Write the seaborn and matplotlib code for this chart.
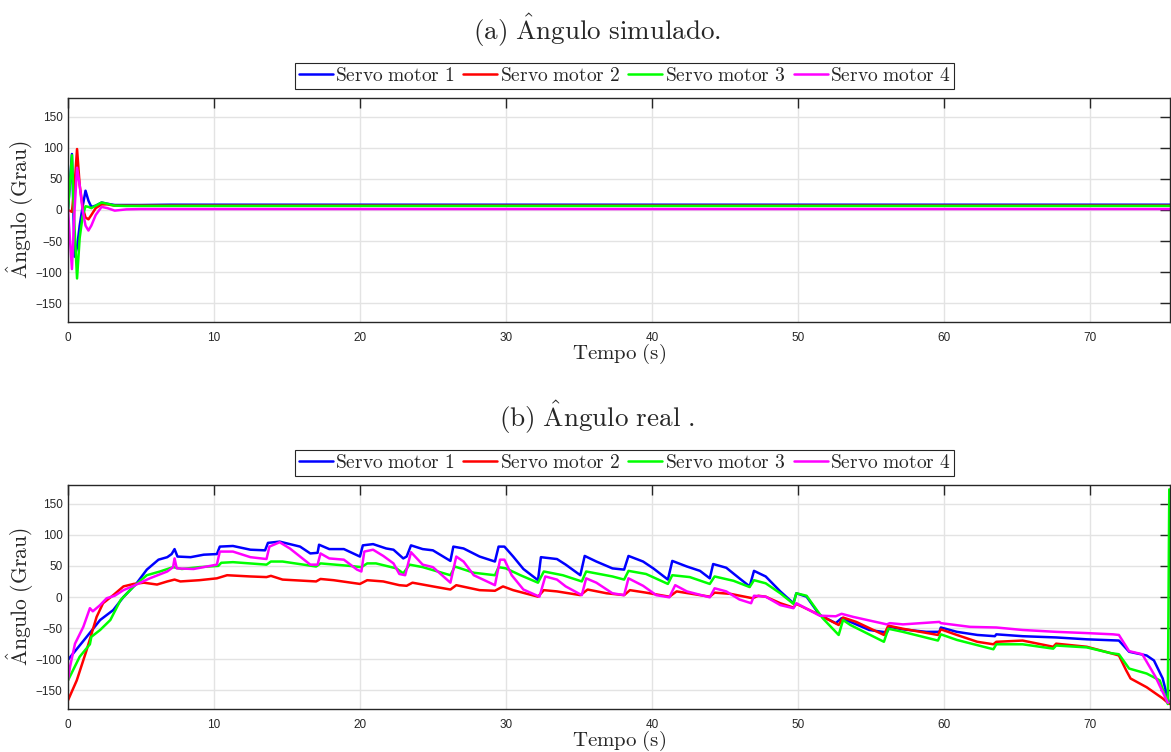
import numpy as np
import pandas as pd
import matplotlib
matplotlib.use("Agg")
import matplotlib.pyplot as plt
import seaborn as sns

# ---------------- data ----------------
series_names = ["Servo motor 1", "Servo motor 2", "Servo motor 3", "Servo motor 4"]
series_colors = ["#0000ff", "#ff0000", "#00ff00", "#ff00ff"]

# (a) simulated angle
t_sim = [0.0, 0.27, 0.45, 0.62, 0.8, 1.0, 1.2, 1.4, 1.6, 1.9, 2.3, 2.7, 3.2, 4.0, 5.0, 7.0, 10.0, 30.0, 50.0, 75.5]
sim_m1 = [0, 90, -75, -60, -25, 5, 31, 15, 5, 7, 12, 10, 8, 8, 8, 8.5, 8.5, 8.5, 8.5, 8.5]
sim_m2 = [0, -3, 40, 98, 40, 5, -12, -15, -8, 3, 9, 9, 7, 7, 7, 7, 7, 7, 7, 7]
sim_m3 = [0, 88, -30, -110, -45, -10, 6, 5, 3, 7, 12, 10, 7, 6.5, 6.5, 6.5, 6.5, 6.5, 6.5, 6.5]
sim_m4 = [0, -95, 0, 68, 40, 0, -25, -33, -25, -8, 5, 3, -1, 1, 1.5, 1.5, 1.5, 1.5, 1.5, 1.5]

# (b) real angle
t_r1 = [0.0, 1.28, 2.2, 3.1, 3.8, 4.7, 5.4, 6.2, 6.8, 7.1, 7.3, 7.5, 8.4, 9.3, 10.2, 10.4, 11.3, 12.5, 13.5, 13.7,
        14.5, 15.9, 16.6, 17.1, 17.2, 17.9, 18.9, 20.0, 20.2, 20.9, 21.8, 22.3, 22.97, 23.2, 23.5, 24.3, 25.0, 26.2,
        26.4, 27.1, 28.2, 29.25, 29.5, 29.9, 30.5, 31.2, 32.2, 32.4, 33.5, 34.1, 35.1, 35.4, 36.2, 37.3, 38.1, 38.4,
        39.4, 40.1, 41.1, 41.4, 42.4, 43.3, 43.97, 44.2, 45.1, 46.0, 46.7, 47.0, 47.8, 48.8, 49.7, 49.9, 50.6, 51.5,
        52.6, 53.0, 53.8, 54.9, 56.1, 56.3, 57.2, 58.8, 59.7, 59.8, 60.9, 62.3, 63.5, 63.6, 65.4, 67.7, 69.8, 72.0,
        72.7, 73.9, 74.4, 75.0, 75.4]
real_m1 = [-101, -64, -37, -21, 0, 22, 44, 60, 64, 69, 77, 65, 64, 68, 69, 81, 82, 76, 75, 87,
           89, 81, 70, 71, 84, 77, 77, 65, 83, 85, 78, 76, 62, 65, 83, 77, 75, 58,
           81, 78, 65, 57, 81, 81, 65, 45, 27, 64, 61, 52, 35, 66, 57, 46, 44, 66,
           57, 46, 28, 58, 49, 42, 30, 53, 47, 30, 17, 42, 33, 9, -10, 6, 0.5, -29,
           -42, -34, -42, -53, -57, -48, -52, -56, -56, -49, -56, -61, -63, -60, -63, -65, -68, -70,
           -88, -94, -102, -131, -168]

t_r2 = [0.0, 0.6, 1.28, 1.96, 2.4, 3.1, 3.8, 4.5, 5.2, 6.1, 6.8, 7.3, 7.7, 9.0, 10.2, 10.9, 12.5, 13.6, 13.9,
        14.7, 17.0, 17.3, 18.2, 20.0, 20.5, 21.6, 22.7, 23.2, 23.6, 25.0, 26.2, 26.6, 28.2, 29.25, 29.8, 30.5,
        32.2, 32.6, 33.5, 35.1, 35.6, 36.9, 38.1, 38.5, 39.6, 41.2, 41.7, 43.97, 44.3, 45.4, 46.9, 47.3, 47.8,
        48.8, 49.7, 49.9, 51.5, 52.8, 53.1, 54.0, 55.9, 56.2, 57.2, 59.6, 59.8, 60.9, 62.3, 63.4, 63.6, 65.4,
        67.5, 67.7, 69.8, 71.4, 72.0, 72.5, 72.8, 73.9, 75.0, 75.45]
real_m2 = [-166, -134, -85, -32, -10, 3, 17, 21, 23, 20, 25, 28, 25, 27, 30, 35, 33, 32, 34,
           28, 25, 29, 27, 21, 27, 25, 19, 18, 23, 17, 12, 19, 11, 10, 17, 11,
           0.5, 11, 9, 3, 12, 6, 3, 11, 7, 0.5, 9, 0.5, 7, 5, -2, 2, 0.5,
           -10, -17, -11, -29, -45, -33, -40, -61, -46, -51, -61, -52, -61, -72, -76, -72, -70,
           -80, -75, -80, -90, -94, -118, -131, -145, -163, -172]

t_r3 = [0.0, 0.8, 1.5, 1.6, 2.2, 2.9, 3.6, 4.5, 5.4, 6.3, 7.2, 7.8, 9.0, 10.3, 10.5, 11.3, 13.6, 13.9, 14.7,
        17.0, 17.3, 19.3, 20.1, 20.5, 21.1, 22.5, 22.97, 23.4, 24.3, 26.2, 26.5, 27.8, 29.25, 29.5, 30.0, 31.0,
        32.2, 32.6, 33.9, 35.2, 35.5, 37.3, 38.1, 38.4, 39.6, 41.1, 41.4, 42.6, 43.97, 44.3, 45.6, 46.7, 47.0,
        47.8, 48.8, 49.7, 49.9, 50.6, 51.7, 52.8, 53.1, 53.6, 55.9, 56.2, 57.2, 59.6, 59.8, 60.9, 63.4, 63.6,
        65.4, 67.5, 67.7, 69.8, 71.4, 72.0, 72.7, 73.9, 74.8, 75.35, 75.45]
real_m3 = [-134, -96, -76, -64, -53, -37, -5, 17, 35, 41, 48, 45, 48, 50, 55, 56, 52, 57, 57,
           49, 54, 50, 48, 54, 54, 46, 38, 52, 48, 35, 49, 39, 35, 48, 46, 35,
           23, 41, 35, 25, 41, 33, 28, 42, 37, 21, 35, 32, 21, 33, 26, 16, 27,
           22, 6, -11, 6, 2, -34, -61, -37, -45, -72, -51, -56, -70, -60, -69, -84, -76,
           -76, -83, -78, -81, -90, -92, -115, -123, -134, -172, 173]

t_r4 = [0.0, 0.14, 0.48, 1.05, 1.5, 1.7, 2.2, 2.65, 3.2, 3.8, 4.5, 5.6, 6.8, 7.2, 7.3, 7.45, 8.6, 10.2, 10.4,
        11.3, 12.5, 13.6, 13.8, 14.5, 15.2, 15.9, 16.6, 17.1, 17.3, 17.9, 18.9, 19.8, 20.1, 20.3, 20.9, 21.6,
        22.3, 22.7, 23.1, 23.5, 24.3, 25.0, 26.2, 26.6, 27.1, 27.8, 29.25, 29.6, 29.9, 30.4, 31.2, 32.3, 32.7,
        33.5, 34.1, 35.2, 35.5, 36.2, 37.3, 38.1, 38.4, 39.4, 40.3, 41.2, 41.6, 42.4, 43.97, 44.3, 45.1, 46.0,
        46.8, 47.0, 47.8, 48.8, 49.7, 49.9, 51.5, 52.6, 53.0, 53.8, 56.1, 56.3, 57.2, 59.7, 59.8, 61.8, 63.6,
        65.4, 67.7, 69.8, 71.6, 72.0, 72.7, 73.6, 74.5, 75.35]
real_m4 = [-134, -112, -75, -48, -18, -23, -13, -2, 2, 11, 18, 30, 41, 48, 62, 46, 45, 52, 73,
           73, 64, 61, 81, 88, 78, 65, 52, 52, 70, 62, 60, 44, 41, 73, 76, 66,
           54, 37, 35, 72, 52, 48, 23, 65, 57, 35, 19, 60, 60, 35, 12, 0.5, 33,
           28, 17, 3, 30, 23, 6, 3, 30, 18, 3, -0.5, 19, 9, -0.5, 14, 9, -4,
           -10, 2, 0.5, -13, -18, -10, -30, -31, -27, -32, -44, -42, -44, -40, -42, -48, -49,
           -53, -56, -58, -60, -61, -87, -92, -128, -170]

x_ticks = [0, 10, 20, 30, 40, 50, 60, 70]
y_ticks = [-150, -100, -50, 0, 50, 100, 150]

# ---------------- style ----------------
sns.set_style("whitegrid")
plt.rcParams.update({
    "mathtext.fontset": "cm",
    "axes.edgecolor": "#262626",
    "axes.linewidth": 1.0,
    "grid.color": "#e3e3e3",
    "grid.linewidth": 1.0,
    "xtick.color": "#262626",
    "ytick.color": "#262626",
    "xtick.direction": "in",
    "ytick.direction": "in",
})
plt.rcParams["font.family"] = ["Liberation Sans", "DejaVu Sans"]


def long_df(t_list, v_list):
    frames = []
    for name, t, v in zip(series_names, t_list, v_list):
        frames.append(pd.DataFrame({"t": t, "v": v, "serie": name}))
    return pd.concat(frames, ignore_index=True)


df_sim = long_df([t_sim] * 4, [sim_m1, sim_m2, sim_m3, sim_m4])
df_real = long_df([t_r1, t_r2, t_r3, t_r4], [real_m1, real_m2, real_m3, real_m4])

fig = plt.figure(figsize=(11.71, 7.52), dpi=100)
ax1 = fig.add_axes([68 / 1171, 1 - 322 / 752, 1102 / 1171, 224 / 752])
ax2 = fig.add_axes([68 / 1171, 1 - 709 / 752, 1102 / 1171, 224 / 752])

legend_labels = [r"$\mathrm{Servo\ motor\ %d}$" % (i + 1) for i in range(4)]

for ax, df in ((ax1, df_sim), (ax2, df_real)):
    sns.lineplot(data=df, x="t", y="v", hue="serie", hue_order=series_names,
                 palette=series_colors, estimator=None, sort=False,
                 linewidth=1.8, ax=ax, legend=True)
    ax.set_xlim(0, 75.5)
    ax.set_ylim(-180, 180)
    ax.set_xticks(x_ticks)
    ax.set_yticks(y_ticks)
    ax.tick_params(axis="both", which="both", top=True, right=True, length=7,
                   width=1.0, labelsize=8.5, labelcolor="#262626")
    ax.tick_params(axis="x", pad=7)
    ax.tick_params(axis="y", pad=4)
    ax.grid(True)
    for s in ax.spines.values():
        s.set_visible(True)
        s.set_color("#262626")
    ax.set_xlabel(r"$\mathrm{Tempo\ (s)}$", fontsize=15, labelpad=-1.5)
    ax.set_ylabel(r"$\mathrm{\hat{A}ngulo\ (Grau)}$", fontsize=15.5, labelpad=0)
    handles, _ = ax.get_legend_handles_labels()
    leg = ax.legend(handles, legend_labels, ncol=4, loc="lower center",
                    bbox_to_anchor=(0.505, 1.04), fontsize=14, frameon=True,
                    fancybox=False, edgecolor="#262626", framealpha=1,
                    handlelength=1.75, handletextpad=0.12, columnspacing=0.45,
                    borderpad=0.2, borderaxespad=0)
    leg.get_frame().set_linewidth(0.8)

fig.text(597 / 1171, 1 - 30 / 752, r"$\mathrm{(a)\ \hat{A}ngulo\ simulado.}$",
         ha="center", va="center", fontsize=19.5)
fig.text(597 / 1171, 1 - 417 / 752, r"$\mathrm{(b)\ \hat{A}ngulo\ real\ .}$",
         ha="center", va="center", fontsize=19.5)

fig.savefig("out.png", dpi=100)
